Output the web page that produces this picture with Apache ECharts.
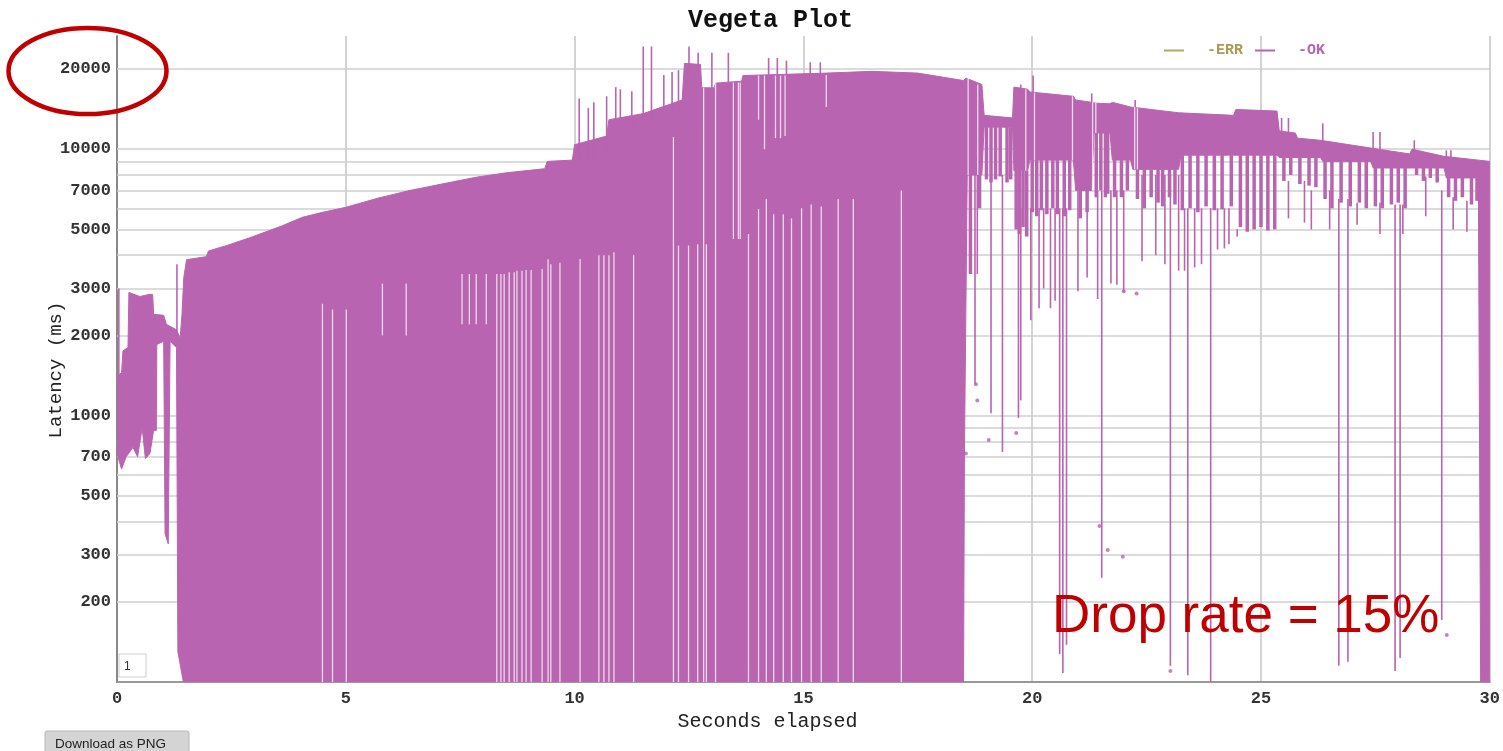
<!DOCTYPE html>
<html>
<head>
<meta charset="utf-8">
<title>Vegeta Plot</title>
<script src="https://cdn.jsdelivr.net/npm/echarts@6/dist/echarts.min.js"></script>
<style>
  html, body { margin: 0; padding: 0; background: #fff; }
  #dom { width: 1503px; height: 751px; }
</style>
</head>
<body>
<div id="dom"></div>
<script>
// top edge of the dense OK trace, [seconds, latency ms]
const okUpper = [
  [0.00, 1400], [0.10, 1450], [0.13, 1750], [0.24, 1800], [0.26, 2900], [0.50, 2800],
  [0.70, 2850], [0.78, 2850], [0.80, 2400], [1.02, 2380], [1.08, 2200], [1.30, 2100],
  [1.38, 1950], [1.42, 2400], [1.46, 3300], [1.52, 3850], [1.95, 3950], [2.00, 4150],
  [2.40, 4350], [2.90, 4650], [3.60, 5150], [4.05, 5550], [4.50, 5800], [5.00, 6050],
  [5.70, 6550], [6.40, 7000], [7.10, 7400], [7.85, 7850], [8.50, 8150], [9.35, 8450],
  [9.40, 9000], [9.95, 9100], [10.00, 10400], [10.70, 11200], [10.75, 12900], [11.50, 13600],
  [12.35, 15300], [12.40, 21000], [12.75, 20800], [12.78, 17000], [13.05, 17000], [13.08, 17700],
  [13.65, 18000], [13.68, 18900], [15.50, 19300], [16.50, 19600], [17.50, 19300], [18.50, 18100],
  [18.55, 18500], [18.90, 17500], [18.95, 13400], [19.57, 13100], [19.60, 17100], [19.90, 16800],
  [19.95, 16400], [20.90, 15800], [20.95, 15300], [21.30, 15000], [21.35, 14900], [21.70, 14800],
  [21.75, 15000], [22.15, 14400], [23.20, 13700], [24.40, 13400], [24.45, 14100], [25.35, 13900],
  [25.40, 11700], [25.75, 11500], [25.80, 11000], [26.30, 10800], [27.40, 10100], [28.25, 9600],
  [28.30, 10000], [29.00, 9400], [30.00, 9000]
]

// bottom edge of the solid part of the OK trace
const okLower = [
  [0.00, 1300], [0.02, 700], [0.10, 630], [0.20, 700], [0.35, 760], [0.45, 700],
  [0.55, 900], [0.62, 690], [0.72, 720], [0.80, 880], [0.86, 880], [0.87, 1850],
  [1.02, 1900], [1.05, 360], [1.12, 330], [1.16, 1900], [1.30, 1800], [1.33, 130],
  [1.45, 100], [18.50, 100], [18.52, 750], [18.58, 8000], [18.90, 8000], [18.95, 12100],
  [19.57, 12100], [19.60, 8300], [19.90, 8300], [19.95, 9100], [20.90, 9100], [20.95, 7000],
  [21.30, 7000], [21.35, 11500], [21.70, 11500], [21.75, 9100], [22.15, 9100], [22.20, 8400],
  [23.20, 8400], [23.25, 9500], [25.35, 9500], [25.40, 9300], [26.30, 9300], [26.35, 9000],
  [27.40, 9000], [27.45, 8500], [29.00, 8500], [29.05, 7800], [29.75, 7800], [29.80, 100],
  [30.00, 100]
]

// clustered requests hanging below the solid part: [seconds, from ms, to ms]
const okColumns = [
  [18.65, 8000, 3400], [18.85, 8000, 6000], [19.00, 12100, 7700], [19.10, 12100, 7500],
  [19.20, 12100, 7700], [19.30, 12100, 7900], [19.45, 12100, 7500], [19.53, 12100, 7700],
  [19.65, 8300, 5000], [19.72, 8300, 4800], [19.80, 8300, 5100], [19.88, 8300, 4700],
  [20.00, 9100, 5800], [20.10, 9100, 5600], [20.20, 9100, 5900], [20.32, 9100, 5700],
  [20.45, 9100, 6000], [20.55, 9100, 5700], [20.70, 9100, 5600], [20.82, 9100, 5900],
  [21.05, 7000, 5500], [21.20, 7000, 5800], [21.40, 11500, 6600], [21.50, 11500, 7000],
  [21.60, 11500, 6600], [21.65, 11500, 6800], [21.80, 9100, 6600], [21.95, 9100, 6600],
  [22.08, 9100, 7000], [22.30, 8400, 6500], [22.45, 8400, 6000], [22.60, 8400, 6600],
  [22.75, 8400, 6300], [22.85, 8400, 6100], [23.00, 8400, 6600], [23.12, 8400, 6200],
  [23.28, 9500, 5900], [23.45, 9500, 6000], [23.62, 9500, 5800], [23.80, 9500, 6100],
  [23.98, 9500, 5900], [24.15, 9500, 5950], [24.35, 9500, 6100], [24.55, 9500, 5100],
  [24.70, 9500, 4900], [24.85, 9500, 5000], [25.00, 9500, 5100], [25.15, 9500, 4950],
  [25.30, 9500, 5000], [25.50, 9300, 7600], [25.65, 9300, 8000], [25.85, 9300, 7400],
  [26.05, 9300, 7300], [26.20, 9300, 7200], [26.40, 9000, 6500], [26.55, 9000, 6000],
  [26.75, 9000, 6300], [26.95, 9000, 6100], [27.15, 9000, 6300], [27.30, 9000, 6000],
  [27.50, 8500, 6100], [27.65, 8500, 6000], [27.85, 8500, 6200], [28.00, 8500, 6300],
  [28.15, 8500, 6000], [28.40, 8500, 8000], [28.55, 8500, 7600], [28.70, 8500, 7800],
  [28.85, 8500, 7500], [29.10, 7800, 6600], [29.25, 7800, 6400], [29.40, 7800, 6600],
  [29.60, 7800, 6200], [29.72, 7800, 6400]
]

// single requests sticking out of the band: [seconds, from ms, to ms]
const okSpikes = [
  [0.04, 3000, 1300], [1.31, 3700, 2000],
  [10.10, 15500, 9000], [10.30, 14300, 9000], [10.42, 15000, 9000], [10.70, 15800, 10000],
  [10.90, 17100, 12000], [11.00, 16800, 12000], [11.25, 16500, 12000], [11.50, 24300, 13000],
  [11.68, 24300, 13000], [11.95, 19000, 14000], [12.13, 19500, 14000], [12.27, 19800, 14000],
  [12.50, 24300, 17000], [12.70, 23000, 17000], [13.00, 23000, 17000], [13.36, 23000, 17000],
  [14.24, 22000, 17000], [14.43, 22000, 17000], [14.63, 21500, 17000], [15.15, 21200, 18000],
  [15.37, 21200, 18000], [20.02, 18900, 15000], [19.75, 17500, 16000], [21.30, 16200, 15000],
  [22.25, 15300, 14000], [25.45, 13100, 11500], [25.60, 13100, 11000], [26.35, 12500, 10500],
  [27.45, 11600, 9800], [27.60, 11600, 9800], [28.35, 10800, 9800], [29.05, 9900, 9200],
  [29.15, 9900, 9200],
  [18.75, 8000, 1310], [18.80, 8000, 3400], [19.10, 8000, 1020], [19.35, 8000, 730],
  [19.70, 6000, 980], [19.75, 6000, 1140], [19.97, 6000, 2280], [20.15, 6000, 2530],
  [20.25, 6000, 3000], [20.40, 6000, 2530], [20.50, 6000, 2700], [20.60, 6000, 127],
  [20.67, 6000, 108], [20.75, 6000, 138], [21.00, 7000, 2930], [21.20, 7000, 3300],
  [21.43, 7000, 2740], [21.52, 7000, 246], [21.72, 7000, 3130], [21.85, 7000, 3100],
  [22.00, 7000, 2900], [22.40, 8000, 3800], [22.70, 8000, 4000], [22.90, 8000, 3700],
  [23.02, 8000, 115], [23.20, 8000, 3500], [23.33, 6000, 3500], [23.40, 6000, 106],
  [23.55, 6000, 3600], [23.70, 6000, 3700], [23.90, 6000, 100], [24.05, 6000, 4200],
  [24.20, 6000, 4240], [24.30, 6000, 4400], [24.48, 5000, 4700], [25.60, 7600, 5500],
  [25.95, 7600, 5300], [26.10, 7000, 5000], [26.50, 7000, 5000], [26.70, 6500, 115],
  [26.90, 6500, 119], [27.10, 6300, 5200], [27.60, 6300, 4800], [27.93, 6200, 110],
  [28.04, 6200, 123], [28.10, 6200, 4800], [28.60, 7900, 5600], [28.95, 7000, 171],
  [29.20, 6600, 5000], [29.50, 6400, 4900]
]

// thin holes inside the filled part: [seconds, from ms, to ms]
const okGaps = [
  [4.49, 2630, 100], [4.71, 2500, 100], [5.01, 2500, 100], [5.80, 3130, 2000], [6.32, 3130, 2000],
  [7.54, 3400, 2200], [7.70, 3400, 2200], [7.85, 3400, 2200], [8.07, 3400, 2200], [8.30, 3400, 100],
  [8.39, 3400, 100], [8.46, 3400, 100], [8.57, 3450, 100], [8.68, 3450, 100], [8.74, 3500, 100],
  [8.85, 3500, 100], [8.94, 3520, 100], [9.05, 3520, 100], [9.29, 3550, 100], [9.42, 3860, 100],
  [9.48, 3700, 100], [9.68, 3750, 100], [10.12, 3870, 100], [10.53, 4000, 100], [10.64, 4000, 100],
  [10.75, 4000, 100], [10.86, 4100, 100], [11.29, 4000, 100], [12.16, 11100, 100], [12.27, 4350, 100],
  [12.49, 4350, 100], [12.69, 4400, 100], [12.82, 17000, 100], [12.88, 4400, 100], [13.08, 17700, 100],
  [13.47, 17800, 4600], [13.58, 17800, 4600], [13.62, 17800, 4600], [13.80, 4800, 100],
  [14.02, 18900, 12900], [14.02, 5960, 100], [14.15, 18900, 10000], [14.19, 6500, 100],
  [14.35, 5700, 100], [14.39, 18900, 11000], [14.50, 18900, 11000], [14.56, 5700, 100],
  [14.60, 18900, 11200], [14.74, 5500, 100], [14.96, 6000, 100], [15.17, 6200, 100],
  [15.39, 6100, 100], [15.50, 19000, 14400], [15.76, 6500, 100], [16.09, 6500, 100], [17.14, 7000, 100],
  [18.60, 18500, 8000], [18.81, 17500, 8000], [19.86, 16800, 8300], [20.05, 16300, 9100],
  [20.88, 15800, 9100], [21.32, 15000, 7000], [21.39, 14900, 11500], [22.24, 14400, 8400],
  [22.30, 14300, 8400]
]

// isolated requests
const okDots = [
  [18.55, 720], [18.77, 1310], [18.80, 1140], [19.05, 810], [19.65, 860], [21.47, 385],
  [21.65, 313], [21.98, 295], [22.00, 2930], [22.28, 2870], [23.02, 110], [29.06, 150]
]

const gridValues = [200, 300, 400, 500, 600, 700, 800, 900, 1000, 2000, 3000, 4000, 5000, 6000, 7000, 8000, 9000, 10000, 20000]
const labelValues = [200, 300, 500, 700, 1000, 2000, 3000, 5000, 7000, 10000, 20000]
const xTicks = { min: 0, max: 30, interval: 5 }

const OK_COLOR = '#b864b0'
const ERR_COLOR = '#b3a75f'
const MONO = 'Liberation Mono'

const dom = echarts.init(document.getElementById('dom'))

const vLine = (color, width) => (params, api) => {
  const a = api.coord([api.value(0), api.value(1)])
  const b = api.coord([api.value(0), api.value(2)])
  return {
    type: 'line',
    shape: { x1: a[0], y1: a[1], x2: b[0], y2: b[1] },
    style: { stroke: color, lineWidth: width }
  }
}

const option = {
  animation: false,
  title: {
    text: 'Vegeta Plot',
    left: 683,
    top: 3,
    textStyle: { fontFamily: MONO, fontWeight: 'bold', fontSize: 25, color: '#111' }
  },
  legend: {
    left: 1159,
    top: 38,
    icon: 'rect',
    itemWidth: 20,
    itemHeight: 2,
    itemGap: 12,
    formatter: name => '  ' + name,
    textStyle: { fontFamily: MONO, fontWeight: 'bold', fontSize: 15 },
    data: [
      { name: '-ERR', textStyle: { color: '#a89c55' } },
      { name: '-OK', textStyle: { color: OK_COLOR } }
    ]
  },
  grid: { left: 117, right: 10, top: 36, bottom: 69 },
  xAxis: {
    type: 'value',
    min: xTicks.min,
    max: xTicks.max,
    interval: xTicks.interval,
    name: 'Seconds elapsed',
    nameLocation: 'middle',
    nameGap: 27,
    nameTextStyle: { fontFamily: MONO, fontSize: 20, color: '#222', padding: [0, 72, 0, 0] },
    axisLine: { lineStyle: { color: '#999', width: 2 } },
    axisTick: { show: false },
    axisLabel: { fontFamily: MONO, fontWeight: 'bold', fontSize: 17, color: '#333', margin: 8 },
    splitLine: { show: true, lineStyle: { color: '#c4c4c4', width: 1.5 } }
  },
  yAxis: {
    type: 'log',
    logBase: 10,
    min: 100,
    max: 26600,
    name: 'Latency (ms)',
    nameLocation: 'middle',
    nameGap: 52,
    nameTextStyle: { fontFamily: MONO, fontSize: 19, color: '#222', padding: [0, 22, 0, 0] },
    axisLine: { show: true, lineStyle: { color: '#888', width: 2 } },
    axisTick: { show: false },
    axisLabel: { show: false },
    splitLine: { show: false }
  },
  graphic: [
    {
      type: 'ellipse',
      shape: { cx: 87.5, cy: 71, rx: 79, ry: 43 },
      style: { fill: 'none', stroke: '#c00000', lineWidth: 4.5 },
      z: 100
    },
    {
      type: 'text',
      left: 1052,
      top: 591,
      style: { text: 'Drop rate = 15%', fill: '#c00000', font: '53px "Liberation Sans", Arial, sans-serif' },
      z: 100
    },
    {
      type: 'rect',
      shape: { x: 119, y: 654, width: 27, height: 23 },
      style: { fill: '#fff', stroke: '#cfcfcf', lineWidth: 1 },
      z: 100
    },
    {
      type: 'text',
      x: 124,
      y: 661,
      style: { text: '1', fill: '#333', font: '12px "Liberation Sans", Arial, sans-serif' },
      z: 101
    },
    {
      type: 'rect',
      shape: { x: 45, y: 731, width: 144, height: 26, r: 2 },
      style: { fill: '#d4d4d4', stroke: '#b8b8b8', lineWidth: 1 },
      z: 100
    },
    {
      type: 'text',
      x: 55,
      y: 737,
      style: { text: 'Download as PNG', fill: '#222', font: '13.5px "Liberation Sans", Arial, sans-serif' },
      z: 101
    }
  ],
  series: [
    {
      name: 'grid',
      type: 'line',
      data: [],
      markLine: {
        silent: true,
        z: 1,
        symbol: ['none', 'none'],
        animation: false,
        lineStyle: { color: '#cfcfcf', width: 1.5, type: 'solid' },
        label: {
          position: 'start',
          distance: 6,
          fontFamily: MONO,
          fontWeight: 'bold',
          fontSize: 17,
          color: '#333',
          formatter: p => String(p.value)
        },
        emphasis: { disabled: true },
        data: gridValues.map(v => ({ yAxis: v, label: { show: labelValues.includes(v) } }))
      }
    },
    {
      name: '-ERR',
      type: 'line',
      data: [],
      itemStyle: { color: ERR_COLOR },
      lineStyle: { color: ERR_COLOR }
    },
    {
      name: '-OK',
      type: 'custom',
      clip: true,
      z: 3,
      itemStyle: { color: OK_COLOR },
      data: [0],
      renderItem: (params, api) => {
        const pts = okUpper.map(p => api.coord(p))
          .concat(okLower.slice().reverse().map(p => api.coord(p)))
        return {
          type: 'polygon',
          shape: { points: pts },
          style: { fill: OK_COLOR, stroke: OK_COLOR, lineWidth: 1 }
        }
      }
    },
    {
      name: '-OK',
      type: 'custom',
      clip: true,
      z: 3,
      itemStyle: { color: OK_COLOR },
      encode: { x: 0, y: [1, 2] },
      data: okColumns,
      renderItem: vLine(OK_COLOR, 3.5)
    },
    {
      name: '-OK',
      type: 'custom',
      clip: true,
      z: 3,
      itemStyle: { color: OK_COLOR },
      encode: { x: 0, y: [1, 2] },
      data: okSpikes,
      renderItem: vLine(OK_COLOR, 1.6)
    },
    {
      name: 'gaps',
      type: 'custom',
      clip: true,
      z: 4,
      encode: { x: 0, y: [1, 2] },
      data: okGaps,
      renderItem: vLine('rgba(255,255,255,0.75)', 1.3)
    },
    {
      name: '-OK',
      type: 'scatter',
      z: 3,
      symbolSize: 4,
      itemStyle: { color: OK_COLOR },
      data: okDots
    }
  ]
}

dom.setOption(option)
window.addEventListener('resize', () => dom.resize())
</script>
</body>
</html>
